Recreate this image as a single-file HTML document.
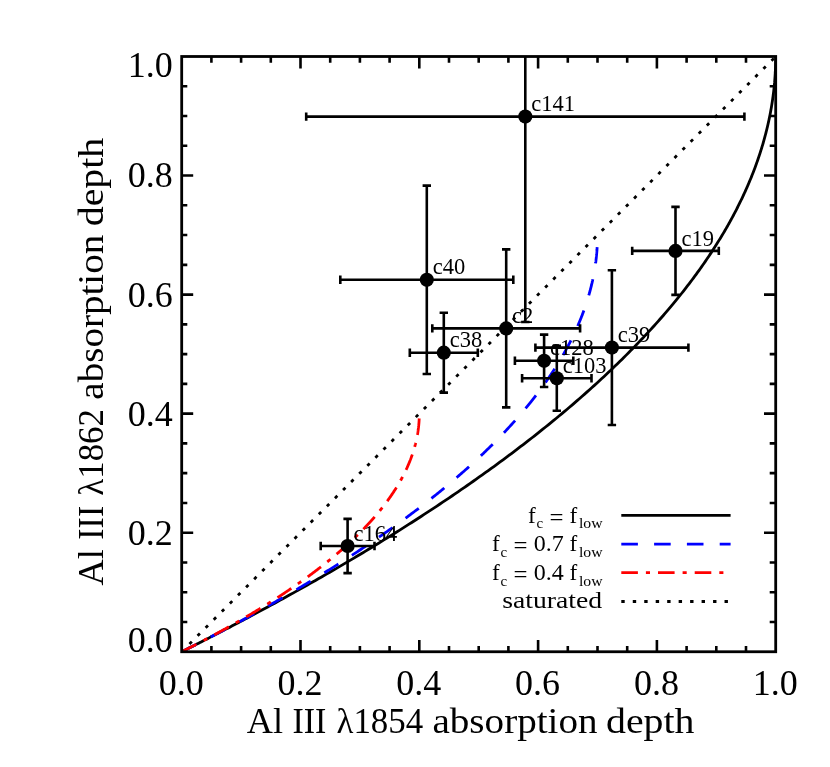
<!DOCTYPE html>
<html lang="en"><head><meta charset="utf-8"><title>Al III absorption depth</title>
<style>
html,body{margin:0;padding:0;background:#fff;}
body{width:830px;height:767px;overflow:hidden;font-family:"Liberation Serif", serif;}
svg{display:block;will-change:transform;}
text{font-family:"Liberation Serif", serif;fill:#000;}
.tk{font-size:36px;}
.ti{font-size:36px;}
.lb{font-size:23.2px;}
.lg{font-size:23.2px;}
.sb{font-size:14px;}
</style></head><body>
<svg width="830" height="767" viewBox="0 0 830 767">
<rect x="0" y="0" width="830" height="767" fill="#ffffff"/>
<defs><clipPath id="cp"><rect x="181.70" y="56.50" width="594.00" height="595.25"/></clipPath></defs>
<g clip-path="url(#cp)" fill="none" stroke-width="2.8">
<path d="M181.70 651.75 L181.72 651.74 L181.79 651.71 L181.90 651.65 L182.05 651.57 L182.25 651.47 L182.49 651.35 L182.78 651.21 L183.11 651.04 L183.48 650.86 L183.90 650.65 L184.36 650.42 L184.86 650.16 L185.41 649.89 L186.00 649.59 L186.63 649.27 L187.31 648.93 L188.02 648.57 L188.79 648.19 L189.59 647.78 L190.44 647.36 L191.32 646.91 L192.25 646.44 L193.22 645.95 L194.24 645.43 L195.29 644.90 L196.39 644.34 L197.52 643.77 L198.70 643.17 L199.92 642.55 L201.17 641.91 L202.47 641.25 L203.81 640.57 L205.18 639.87 L206.60 639.14 L208.05 638.40 L209.54 637.63 L211.07 636.85 L212.63 636.04 L214.24 635.22 L215.88 634.37 L217.55 633.51 L219.27 632.62 L221.02 631.71 L222.80 630.79 L224.62 629.84 L226.47 628.88 L228.36 627.89 L230.29 626.89 L232.24 625.86 L234.23 624.82 L236.25 623.76 L238.31 622.68 L240.39 621.58 L242.51 620.46 L244.66 619.32 L246.84 618.17 L249.04 616.99 L251.28 615.80 L253.55 614.59 L255.85 613.36 L258.17 612.11 L260.52 610.85 L262.90 609.57 L265.31 608.27 L267.74 606.95 L270.20 605.62 L272.68 604.27 L275.19 602.90 L277.73 601.52 L280.28 600.11 L282.86 598.70 L285.47 597.26 L288.09 595.81 L290.74 594.35 L293.41 592.86 L296.10 591.37 L298.81 589.85 L301.54 588.33 L304.29 586.78 L307.06 585.22 L309.84 583.65 L312.65 582.06 L315.47 580.46 L318.31 578.84 L321.16 577.21 L324.03 575.56 L326.91 573.90 L329.81 572.23 L332.73 570.54 L335.65 568.84 L338.59 567.12 L341.55 565.39 L344.51 563.65 L347.49 561.90 L350.47 560.14 L353.47 558.36 L356.48 556.57 L359.50 554.76 L362.52 552.95 L365.56 551.12 L368.60 549.29 L371.65 547.44 L374.70 545.58 L377.77 543.71 L380.83 541.82 L383.91 539.93 L386.99 538.03 L390.07 536.11 L393.16 534.19 L396.25 532.26 L399.34 530.31 L402.44 528.36 L405.53 526.40 L408.63 524.43 L411.73 522.45 L414.83 520.46 L417.93 518.46 L421.03 516.46 L424.13 514.44 L427.23 512.42 L430.33 510.39 L433.42 508.35 L436.51 506.31 L439.60 504.25 L442.69 502.19 L445.77 500.13 L448.85 498.05 L451.92 495.97 L454.99 493.89 L458.05 491.79 L461.10 489.69 L464.15 487.59 L467.20 485.48 L470.23 483.36 L473.26 481.24 L476.28 479.12 L479.29 476.98 L482.30 474.85 L485.29 472.71 L488.28 470.56 L491.25 468.41 L494.22 466.26 L497.17 464.10 L500.12 461.94 L503.05 459.78 L505.98 457.61 L508.89 455.44 L511.79 453.27 L514.67 451.09 L517.55 448.91 L520.41 446.73 L523.26 444.55 L526.10 442.36 L528.92 440.18 L531.73 437.99 L534.52 435.80 L537.30 433.60 L540.06 431.41 L542.81 429.22 L545.55 427.02 L548.27 424.82 L550.97 422.63 L553.66 420.43 L556.34 418.23 L558.99 416.04 L561.63 413.84 L564.26 411.64 L566.86 409.45 L569.46 407.25 L572.03 405.06 L574.58 402.86 L577.12 400.67 L579.64 398.48 L582.15 396.29 L584.63 394.10 L587.10 391.91 L589.55 389.72 L591.98 387.54 L594.40 385.36 L596.79 383.18 L599.17 381.00 L601.52 378.83 L603.86 376.66 L606.18 374.49 L608.48 372.32 L610.77 370.16 L613.03 368.00 L615.27 365.85 L617.50 363.69 L619.70 361.55 L621.89 359.40 L624.05 357.26 L626.20 355.12 L628.33 352.99 L630.44 350.86 L632.53 348.74 L634.59 346.62 L636.64 344.51 L638.67 342.40 L640.68 340.29 L642.67 338.19 L644.64 336.10 L646.60 334.01 L648.53 331.92 L650.44 329.85 L652.33 327.77 L654.20 325.71 L656.06 323.65 L657.89 321.59 L659.71 319.54 L661.50 317.50 L663.27 315.46 L665.03 313.43 L666.77 311.41 L668.48 309.39 L670.18 307.38 L671.86 305.38 L673.52 303.38 L675.16 301.39 L676.78 299.41 L678.38 297.43 L679.97 295.46 L681.53 293.50 L683.08 291.55 L684.61 289.60 L686.12 287.66 L687.61 285.73 L689.08 283.81 L690.53 281.89 L691.97 279.99 L693.39 278.09 L694.79 276.20 L696.17 274.31 L697.53 272.44 L698.88 270.57 L700.21 268.71 L701.52 266.86 L702.81 265.02 L704.09 263.18 L705.35 261.36 L706.59 259.54 L707.81 257.73 L709.02 255.93 L710.21 254.14 L711.39 252.36 L712.55 250.59 L713.69 248.82 L714.82 247.07 L715.93 245.32 L717.02 243.59 L718.10 241.86 L719.16 240.14 L720.21 238.43 L721.24 236.73 L722.26 235.04 L723.26 233.36 L724.25 231.69 L725.22 230.02 L726.18 228.37 L727.12 226.73 L728.05 225.09 L728.96 223.47 L729.86 221.85 L730.75 220.25 L731.62 218.65 L732.48 217.06 L733.33 215.49 L734.16 213.92 L734.97 212.36 L735.78 210.81 L736.57 209.27 L737.35 207.75 L738.12 206.23 L738.87 204.72 L739.61 203.22 L740.34 201.73 L741.06 200.25 L741.76 198.78 L742.46 197.32 L743.14 195.87 L743.81 194.43 L744.46 193.00 L745.11 191.58 L745.75 190.17 L746.37 188.77 L746.99 187.37 L747.59 185.99 L748.18 184.62 L748.76 183.26 L749.33 181.91 L749.90 180.57 L750.45 179.23 L750.99 177.91 L751.52 176.60 L752.04 175.30 L752.55 174.00 L753.06 172.72 L753.55 171.45 L754.03 170.18 L754.51 168.93 L754.98 167.68 L755.43 166.45 L755.88 165.22 L756.32 164.01 L756.76 162.80 L757.18 161.61 L757.60 160.42 L758.00 159.24 L758.40 158.08 L758.79 156.92 L759.18 155.77 L759.56 154.63 L759.93 153.50 L760.29 152.38 L760.64 151.27 L760.99 150.17 L761.33 149.08 L761.67 148.00 L761.99 146.92 L762.31 145.86 L762.63 144.81 L762.93 143.76 L763.24 142.73 L763.53 141.70 L763.82 140.68 L764.10 139.67 L764.38 138.67 L764.65 137.68 L764.92 136.70 L765.18 135.73 L765.43 134.76 L765.68 133.81 L765.92 132.86 L766.16 131.92 L766.40 131.00 L766.62 130.08 L766.85 129.16 L767.07 128.26 L767.28 127.37 L767.49 126.48 L767.69 125.61 L767.89 124.74 L768.09 123.88 L768.28 123.02 L768.47 122.18 L768.65 121.35 L768.83 120.52 L769.00 119.70 L769.17 118.89 L769.34 118.09 L769.50 117.29 L769.66 116.51 L769.82 115.73 L769.97 114.96 L770.12 114.20 L770.26 113.44 L770.41 112.69 L770.54 111.96 L770.68 111.22 L770.81 110.50 L770.94 109.78 L771.07 109.08 L771.19 108.37 L771.31 107.68 L771.43 106.99 L771.54 106.31 L771.65 105.64 L771.76 104.98 L771.87 104.32 L771.97 103.67 L772.07 103.03 L772.17 102.39 L772.27 101.76 L772.36 101.14 L772.45 100.53 L772.54 99.92 L772.63 99.32 L772.71 98.72 L772.79 98.14 L772.87 97.55 L772.95 96.98 L773.03 96.41 L773.10 95.85 L773.18 95.30 L773.25 94.75 L773.32 94.21 L773.38 93.67 L773.45 93.14 L773.51 92.62 L773.58 92.10 L773.64 91.59 L773.70 91.08 L773.75 90.58 L773.81 90.09 L773.86 89.60 L773.92 89.12 L773.97 88.65 L774.02 88.18 L774.07 87.71 L774.11 87.25 L774.16 86.80 L774.21 86.35 L774.25 85.91 L774.29 85.48 L774.33 85.04 L774.37 84.62 L774.41 84.20 L774.45 83.78 L774.49 83.37 L774.53 82.97 L774.56 82.57 L774.59 82.18 L774.63 81.79 L774.66 81.40 L774.69 81.02 L774.72 80.65 L774.75 80.28 L774.78 79.91 L774.81 79.55 L774.84 79.20 L774.86 78.85 L774.89 78.50 L774.91 78.16 L774.94 77.82 L774.96 77.49 L774.98 77.16 L775.01 76.84 L775.03 76.52 L775.05 76.20 L775.07 75.89 L775.09 75.59 L775.11 75.28 L775.13 74.99 L775.15 74.69 L775.16 74.40 L775.18 74.11 L775.20 73.83 L775.21 73.55 L775.23 73.28 L775.24 73.01 L775.26 72.74 L775.27 72.48 L775.29 72.22 L775.30 71.96 L775.31 71.71 L775.32 71.46 L775.34 71.21 L775.35 70.97 L775.36 70.73 L775.37 70.50 L775.38 70.27 L775.39 70.04 L775.40 69.81 L775.41 69.59 L775.42 69.37 L775.43 69.16 L775.44 68.95 L775.45 68.74 L775.46 68.53 L775.47 68.33 L775.47 68.13 L775.48 67.93 L775.49 67.74 L775.50 67.55 L775.50 67.36 L775.51 67.17 L775.52 66.99 L775.52 66.81 L775.53 66.63 L775.53 66.46 L775.54 66.28 L775.55 66.12 L775.55 65.95 L775.56 65.78 L775.56 65.62 L775.57 65.46 L775.57 65.31 L775.57 65.15 L775.58 65.00 L775.58 64.85 L775.59 64.70 L775.59 64.56 L775.59 64.42 L775.60 64.27 L775.60 64.14 L775.61 64.00 L775.61 63.87 L775.61 63.73 L775.62 63.61 L775.62 63.48 L775.62 63.35 L775.62 63.23 L775.63 63.11 L775.63 62.99 L775.63 62.87 L775.63 62.75 L775.64 62.64 L775.64 62.53 L775.64 62.42 L775.64 62.31 L775.65 62.20 L775.65 62.10 L775.65 61.99 L775.65 61.89 L775.65 61.79 L775.65 61.69 L775.66 61.60 L775.66 61.50 L775.66 61.41 L775.66 61.32 L775.66 61.23 L775.66 61.14 L775.67 61.05 L775.67 60.97 L775.67 60.88 L775.67 60.80 L775.67 60.72 L775.67 60.64 L775.67 60.56 L775.67 60.48 L775.67 60.41 L775.68 60.33 L775.68 60.26 L775.68 60.18 L775.68 60.11 L775.68 60.04 L775.68 59.98 L775.68 59.91 L775.68 59.84 L775.68 59.78 L775.68 59.71 L775.68 59.65 L775.68 59.59 L775.68 59.53 L775.69 59.47 L775.69 59.41 L775.69 59.35 L775.69 59.30 L775.69 59.24 L775.69 59.19 L775.69 59.14 L775.69 59.08 L775.69 59.03 L775.69 58.98 L775.69 58.93 L775.69 58.88 L775.69 58.84 L775.69 58.79 L775.69 58.74 L775.69 58.70 L775.69 58.65 L775.69 58.61 L775.69 58.57 L775.69 58.52 L775.69 58.48 L775.69 58.44 L775.69 58.40 L775.69 58.36 L775.69 58.33 L775.69 58.29 L775.69 58.25 L775.70 58.22 L775.70 58.18 L775.70 58.15 L775.70 58.11 L775.70 58.08 L775.70 58.05 L775.70 58.01 L775.70 57.98 L775.70 57.95 L775.70 57.92 L775.70 57.89 L775.70 57.86 L775.70 57.83 L775.70 57.81 L775.70 57.78 L775.70 57.75 L775.70 57.72 L775.70 57.70 L775.70 57.67 L775.70 57.65 L775.70 57.62 L775.70 57.60 L775.70 57.58 L775.70 57.55 L775.70 57.53 L775.70 57.51 L775.70 57.49 L775.70 57.47 L775.70 57.44 L775.70 57.42 L775.70 57.40 L775.70 57.38 L775.70 57.37 L775.70 57.35 L775.70 57.33 L775.70 57.31 L775.70 57.29 L775.70 57.27 L775.70 57.26 L775.70 57.24 L775.70 57.22 L775.70 57.21 L775.70 57.19 L775.70 57.18 L775.70 57.16 L775.70 57.15 L775.70 57.13 L775.70 57.12 L775.70 57.11 L775.70 57.09 L775.70 57.08 L775.70 57.07 L775.70 57.05 L775.70 57.04 L775.70 57.03 L775.70 57.02 L775.70 57.00 L775.70 56.99 L775.70 56.98 L775.70 56.97 L775.70 56.96 L775.70 56.95 L775.70 56.94 L775.70 56.93 L775.70 56.92 L775.70 56.91 L775.70 56.90 L775.70 56.89 L775.70 56.88 L775.70 56.87 L775.70 56.87 L775.70 56.86 L775.70 56.85 L775.70 56.84 L775.70 56.83 L775.70 56.82 L775.70 56.82 L775.70 56.81 L775.70 56.80 L775.70 56.80 L775.70 56.79 L775.70 56.78 L775.70 56.77 L775.70 56.77 L775.70 56.76 L775.70 56.76 L775.70 56.75 L775.70 56.74 L775.70 56.74 L775.70 56.73 L775.70 56.73 L775.70 56.72 L775.70 56.72 L775.70 56.71 L775.70 56.71 L775.70 56.70 L775.70 56.70 L775.70 56.69 L775.70 56.69 L775.70 56.68 L775.70 56.68 L775.70 56.67 L775.70 56.67 L775.70 56.67 L775.70 56.66 L775.70 56.66 L775.70 56.65 L775.70 56.65 L775.70 56.65 L775.70 56.64 L775.70 56.64 L775.70 56.64 L775.70 56.63 L775.70 56.63 L775.70 56.63 L775.70 56.62 L775.70 56.62 L775.70 56.62 L775.70 56.61 L775.70 56.61 L775.70 56.61 L775.70 56.61 L775.70 56.60 L775.70 56.60 L775.70 56.60 L775.70 56.60 L775.70 56.59 L775.70 56.59 L775.70 56.59 L775.70 56.59 L775.70 56.58 L775.70 56.58 L775.70 56.58 L775.70 56.58 L775.70 56.58 L775.70 56.57 L775.70 56.57 L775.70 56.57 L775.70 56.57 L775.70 56.57 L775.70 56.56 L775.70 56.56 L775.70 56.56 L775.70 56.56 L775.70 56.56 L775.70 56.56 L775.70 56.56 L775.70 56.55 L775.70 56.55 L775.70 56.55 L775.70 56.55 L775.70 56.55 L775.70 56.55 L775.70 56.55 L775.70 56.54 L775.70 56.54 L775.70 56.54 L775.70 56.54 L775.70 56.54 L775.70 56.54 L775.70 56.54 L775.70 56.54 L775.70 56.54 L775.70 56.54 L775.70 56.53 L775.70 56.53 L775.70 56.53 L775.70 56.53 L775.70 56.53 L775.70 56.53 L775.70 56.53 L775.70 56.53 L775.70 56.53 L775.70 56.53 L775.70 56.53 L775.70 56.53 L775.70 56.52 L775.70 56.52 L775.70 56.52 L775.70 56.52 L775.70 56.52 L775.70 56.52 L775.70 56.52 L775.70 56.52 L775.70 56.52 L775.70 56.52 L775.70 56.52 L775.70 56.52 L775.70 56.52 L775.70 56.52 L775.70 56.52 L775.70 56.52 L775.70 56.52 L775.70 56.52 L775.70 56.52 L775.70 56.51 L775.70 56.51 L775.70 56.51 L775.70 56.51 L775.70 56.51 L775.70 56.51 L775.70 56.51 L775.70 56.51 L775.70 56.51 L775.70 56.51 L775.70 56.51 L775.70 56.51 L775.70 56.51 L775.70 56.51 L775.70 56.51 L775.70 56.51 L775.70 56.51 L775.70 56.51 L775.70 56.51 L775.70 56.51 L775.70 56.51 L775.70 56.51 L775.70 56.51 L775.70 56.51 L775.70 56.51 L775.70 56.51 L775.70 56.51 L775.70 56.51 L775.70 56.51 L775.70 56.51 L775.70 56.51 L775.70 56.51 L775.70 56.51 L775.70 56.51 L775.70 56.51 L775.70 56.51 L775.70 56.51 L775.70 56.51 L775.70 56.50 L775.70 56.50 L775.70 56.50 L775.70 56.50 L775.70 56.50 L775.70 56.50 L775.70 56.50 L775.70 56.50 L775.70 56.50 L775.70 56.50 L775.70 56.50 L775.70 56.50 L775.70 56.50 L775.70 56.50 L775.70 56.50 L775.70 56.50 L775.70 56.50 L775.70 56.50 L775.70 56.50 L775.70 56.50 L775.70 56.50 L775.70 56.50 L775.70 56.50 L775.70 56.50 L775.70 56.50 L775.70 56.50 L775.70 56.50 L775.70 56.50 L775.70 56.50 L775.70 56.50 L775.70 56.50 L775.70 56.50 L775.70 56.50 L775.70 56.50 L775.70 56.50 L775.70 56.50 L775.70 56.50 L775.70 56.50 L775.70 56.50 L775.70 56.50 L775.70 56.50 L775.70 56.50 L775.70 56.50 L775.70 56.50 L775.70 56.50 L775.70 56.50 L775.70 56.50 L775.70 56.50 L775.70 56.50 L775.70 56.50 L775.70 56.50 L775.70 56.50 L775.70 56.50 L775.70 56.50 L775.70 56.50 L775.70 56.50 L775.70 56.50 L775.70 56.50 L775.70 56.50 L775.70 56.50 L775.70 56.50 L775.70 56.50 L775.70 56.50 L775.70 56.50 L775.70 56.50 L775.70 56.50 L775.70 56.50 L775.70 56.50 L775.70 56.50 L775.70 56.50 L775.70 56.50 L775.70 56.50 L775.70 56.50 L775.70 56.50 L775.70 56.50 L775.70 56.50 L775.70 56.50 L775.70 56.50 L775.70 56.50 L775.70 56.50 L775.70 56.50 L775.70 56.50 L775.70 56.50 L775.70 56.50 L775.70 56.50 L775.70 56.50 L775.70 56.50 L775.70 56.50 L775.70 56.50 L775.70 56.50 L775.70 56.50 L775.70 56.50 L775.70 56.50 L775.70 56.50 L775.70 56.50 L775.70 56.50 L775.70 56.50 L775.70 56.50 L775.70 56.50 L775.70 56.50 L775.70 56.50 L775.70 56.50 L775.70 56.50 L775.70 56.50 L775.70 56.50 L775.70 56.50" stroke="#000"/>
<path d="M181.70 651.75 L775.70 56.50" stroke="#000" stroke-dasharray="3.3 8.144" stroke-dashoffset="0.43"/>
<path d="M181.70 651.75 L181.71 651.75 L181.73 651.73 L181.77 651.71 L181.83 651.68 L181.90 651.65 L182.00 651.60 L182.10 651.55 L182.22 651.49 L182.36 651.42 L182.52 651.34 L182.69 651.25 L182.88 651.16 L183.08 651.06 L183.30 650.95 L183.54 650.83 L183.79 650.70 L184.06 650.56 L184.35 650.42 L184.65 650.27 L184.97 650.11 L185.30 649.94 L185.65 649.77 L186.02 649.58 L186.40 649.39 L186.79 649.19 L187.21 648.98 L187.64 648.77 L188.08 648.54 L188.54 648.31 L189.02 648.07 L189.51 647.82 L190.01 647.56 L190.54 647.30 L191.07 647.03 L191.63 646.75 L192.19 646.46 L192.78 646.16 L193.37 645.86 L193.99 645.55 L194.62 645.23 L195.26 644.90 L195.92 644.56 L196.59 644.22 L197.28 643.87 L197.98 643.51 L198.70 643.15 L199.43 642.77 L200.17 642.39 L200.93 642.00 L201.70 641.60 L202.49 641.20 L203.29 640.79 L204.11 640.37 L204.94 639.94 L205.78 639.50 L206.64 639.06 L207.51 638.61 L208.39 638.15 L209.29 637.69 L210.20 637.22 L211.12 636.74 L212.06 636.25 L213.01 635.76 L213.97 635.26 L214.94 634.75 L215.93 634.23 L216.93 633.71 L217.94 633.18 L218.97 632.64 L220.00 632.10 L221.05 631.54 L222.11 630.98 L223.18 630.42 L224.27 629.85 L225.36 629.27 L226.47 628.68 L227.59 628.09 L228.71 627.49 L229.85 626.88 L231.01 626.27 L232.17 625.65 L233.34 625.02 L234.52 624.38 L235.72 623.74 L236.92 623.10 L238.13 622.44 L239.36 621.78 L240.59 621.12 L241.84 620.44 L243.09 619.76 L244.35 619.08 L245.63 618.38 L246.91 617.69 L248.20 616.98 L249.50 616.27 L250.81 615.55 L252.12 614.83 L253.45 614.10 L254.78 613.36 L256.12 612.62 L257.48 611.87 L258.83 611.12 L260.20 610.36 L261.57 609.60 L262.96 608.83 L264.35 608.05 L265.74 607.27 L267.15 606.48 L268.56 605.68 L269.97 604.88 L271.40 604.08 L272.83 603.27 L274.27 602.45 L275.71 601.63 L277.16 600.80 L278.62 599.97 L280.08 599.13 L281.55 598.29 L283.02 597.44 L284.50 596.59 L285.98 595.73 L287.47 594.87 L288.97 594.00 L290.47 593.13 L291.97 592.25 L293.48 591.37 L294.99 590.48 L296.51 589.59 L298.03 588.69 L299.56 587.79 L301.09 586.88 L302.62 585.97 L304.16 585.05 L305.70 584.13 L307.24 583.21 L308.79 582.28 L310.34 581.35 L311.89 580.41 L313.45 579.47 L315.01 578.52 L316.57 577.57 L318.13 576.62 L319.70 575.66 L321.27 574.69 L322.84 573.73 L324.41 572.76 L325.98 571.78 L327.56 570.81 L329.13 569.82 L330.71 568.84 L332.29 567.85 L333.87 566.86 L335.45 565.86 L337.03 564.86 L338.62 563.86 L340.20 562.85 L341.78 561.84 L343.37 560.83 L344.95 559.81 L346.53 558.79 L348.12 557.77 L349.70 556.74 L351.29 555.71 L352.87 554.68 L354.45 553.64 L356.03 552.61 L357.61 551.56 L359.19 550.52 L360.77 549.47 L362.35 548.42 L363.92 547.37 L365.50 546.32 L367.07 545.26 L368.64 544.20 L370.21 543.14 L371.78 542.08 L373.35 541.01 L374.91 539.94 L376.47 538.87 L378.03 537.79 L379.59 536.72 L381.14 535.64 L382.70 534.56 L384.24 533.48 L385.79 532.40 L387.33 531.31 L388.88 530.22 L390.41 529.13 L391.95 528.04 L393.48 526.95 L395.00 525.85 L396.53 524.76 L398.05 523.66 L399.56 522.56 L401.08 521.46 L402.59 520.36 L404.09 519.25 L405.59 518.15 L407.09 517.04 L408.58 515.94 L410.07 514.83 L411.55 513.72 L413.03 512.61 L414.51 511.50 L415.98 510.38 L417.44 509.27 L418.90 508.16 L420.36 507.04 L421.81 505.92 L423.26 504.81 L424.70 503.69 L426.13 502.57 L427.56 501.45 L428.99 500.33 L430.41 499.21 L431.82 498.09 L433.23 496.97 L434.63 495.85 L436.03 494.73 L437.42 493.61 L438.81 492.49 L440.19 491.37 L441.57 490.24 L442.93 489.12 L444.30 488.00 L445.65 486.88 L447.00 485.75 L448.35 484.63 L449.69 483.51 L451.02 482.39 L452.34 481.27 L453.66 480.14 L454.98 479.02 L456.28 477.90 L457.58 476.78 L458.88 475.66 L460.16 474.54 L461.45 473.42 L462.72 472.30 L463.99 471.19 L465.25 470.07 L466.50 468.95 L467.75 467.84 L468.99 466.72 L470.22 465.61 L471.45 464.49 L472.67 463.38 L473.88 462.27 L475.09 461.16 L476.29 460.05 L477.48 458.94 L478.66 457.83 L479.84 456.73 L481.01 455.62 L482.17 454.52 L483.33 453.41 L484.48 452.31 L485.62 451.21 L486.76 450.11 L487.88 449.01 L489.00 447.92 L490.12 446.82 L491.22 445.73 L492.32 444.64 L493.41 443.55 L494.50 442.46 L495.58 441.37 L496.65 440.29 L497.71 439.20 L498.76 438.12 L499.81 437.04 L500.85 435.96 L501.89 434.89 L502.91 433.81 L503.93 432.74 L504.94 431.67 L505.95 430.60 L506.94 429.53 L507.93 428.46 L508.91 427.40 L509.89 426.34 L510.86 425.28 L511.82 424.22 L512.77 423.17 L513.71 422.12 L514.65 421.07 L515.58 420.02 L516.51 418.97 L517.42 417.93 L518.33 416.89 L519.23 415.85 L520.13 414.81 L521.02 413.78 L521.90 412.75 L522.77 411.72 L523.64 410.69 L524.50 409.67 L525.35 408.65 L526.19 407.63 L527.03 406.61 L527.86 405.60 L528.68 404.59 L529.50 403.58 L530.31 402.57 L531.11 401.57 L531.91 400.57 L532.69 399.57 L533.47 398.58 L534.25 397.59 L535.02 396.60 L535.78 395.61 L536.53 394.63 L537.28 393.65 L538.02 392.67 L538.75 391.70 L539.48 390.73 L540.20 389.76 L540.91 388.79 L541.62 387.83 L542.32 386.87 L543.01 385.91 L543.70 384.96 L544.38 384.01 L545.05 383.06 L545.72 382.12 L546.38 381.18 L547.03 380.24 L547.68 379.30 L548.32 378.37 L548.96 377.45 L549.59 376.52 L550.21 375.60 L550.82 374.68 L551.43 373.76 L552.04 372.85 L552.64 371.94 L553.23 371.04 L553.81 370.14 L554.39 369.24 L554.97 368.34 L555.53 367.45 L556.09 366.56 L556.65 365.68 L557.20 364.80 L557.74 363.92 L558.28 363.04 L558.81 362.17 L559.34 361.30 L559.86 360.44 L560.38 359.58 L560.89 358.72 L561.39 357.86 L561.89 357.01 L562.38 356.17 L562.87 355.32 L563.35 354.48 L563.83 353.65 L564.30 352.81 L564.77 351.98 L565.23 351.16 L565.68 350.34 L566.13 349.52 L566.58 348.70 L567.02 347.89 L567.45 347.08 L567.88 346.28 L568.31 345.48 L568.73 344.68 L569.14 343.89 L569.56 343.10 L569.96 342.31 L570.36 341.53 L570.76 340.75 L571.15 339.97 L571.53 339.20 L571.92 338.43 L572.29 337.67 L572.67 336.91 L573.03 336.15 L573.40 335.39 L573.76 334.64 L574.11 333.90 L574.46 333.16 L574.81 332.42 L575.15 331.68 L575.49 330.95 L575.82 330.22 L576.15 329.50 L576.47 328.78 L576.79 328.06 L577.11 327.35 L577.42 326.64 L577.73 325.93 L578.04 325.23 L578.34 324.53 L578.63 323.83 L578.93 323.14 L579.21 322.46 L579.50 321.77 L579.78 321.09 L580.06 320.41 L580.33 319.74 L580.60 319.07 L580.87 318.41 L581.13 317.74 L581.39 317.08 L581.65 316.43 L581.90 315.78 L582.15 315.13 L582.40 314.49 L582.64 313.85 L582.88 313.21 L583.11 312.58 L583.35 311.95 L583.58 311.32 L583.80 310.70 L584.03 310.08 L584.25 309.47 L584.46 308.85 L584.68 308.25 L584.89 307.64 L585.10 307.04 L585.30 306.44 L585.50 305.85 L585.70 305.26 L585.90 304.67 L586.09 304.09 L586.28 303.51 L586.47 302.94 L586.66 302.36 L586.84 301.79 L587.02 301.23 L587.20 300.67 L587.37 300.11 L587.54 299.55 L587.71 299.00 L587.88 298.45 L588.04 297.91 L588.21 297.37 L588.37 296.83 L588.52 296.30 L588.68 295.77 L588.83 295.24 L588.98 294.72 L589.13 294.19 L589.28 293.68 L589.42 293.16 L589.56 292.65 L589.70 292.15 L589.84 291.64 L589.97 291.14 L590.10 290.64 L590.24 290.15 L590.36 289.66 L590.49 289.17 L590.62 288.69 L590.74 288.21 L590.86 287.73 L590.98 287.26 L591.10 286.79 L591.21 286.32 L591.32 285.86 L591.44 285.39 L591.55 284.94 L591.65 284.48 L591.76 284.03 L591.86 283.58 L591.97 283.14 L592.07 282.69 L592.17 282.26 L592.27 281.82 L592.36 281.39 L592.46 280.96 L592.55 280.53 L592.64 280.11 L592.73 279.69 L592.82 279.27 L592.91 278.86 L593.00 278.44 L593.08 278.04 L593.16 277.63 L593.24 277.23 L593.32 276.83 L593.40 276.43 L593.48 276.04 L593.56 275.65 L593.63 275.26 L593.71 274.88 L593.78 274.50 L593.85 274.12 L593.92 273.74 L593.99 273.37 L594.06 273.00 L594.12 272.63 L594.19 272.27 L594.25 271.91 L594.31 271.55 L594.38 271.19 L594.44 270.84 L594.50 270.49 L594.56 270.14 L594.61 269.79 L594.67 269.45 L594.73 269.11 L594.78 268.77 L594.83 268.44 L594.89 268.11 L594.94 267.78 L594.99 267.45 L595.04 267.13 L595.09 266.81 L595.14 266.49 L595.18 266.17 L595.23 265.86 L595.28 265.55 L595.32 265.24 L595.36 264.94 L595.41 264.63 L595.45 264.33 L595.49 264.03 L595.53 263.74 L595.57 263.44 L595.61 263.15 L595.65 262.87 L595.69 262.58 L595.73 262.30 L595.76 262.01 L595.80 261.74 L595.83 261.46 L595.87 261.19 L595.90 260.91 L595.93 260.64 L595.97 260.38 L596.00 260.11 L596.03 259.85 L596.06 259.59 L596.09 259.33 L596.12 259.08 L596.15 258.82 L596.18 258.57 L596.21 258.32 L596.23 258.07 L596.26 257.83 L596.29 257.59 L596.31 257.35 L596.34 257.11 L596.36 256.87 L596.39 256.64 L596.41 256.41 L596.43 256.18 L596.46 255.95 L596.48 255.72 L596.50 255.50 L596.52 255.28 L596.54 255.06 L596.56 254.84 L596.58 254.62 L596.60 254.41 L596.62 254.20 L596.64 253.99 L596.66 253.78 L596.68 253.57 L596.70 253.37 L596.72 253.17 L596.73 252.97 L596.75 252.77 L596.77 252.57 L596.78 252.38 L596.80 252.19 L596.81 251.99 L596.83 251.80 L596.84 251.62 L596.86 251.43 L596.87 251.25 L596.89 251.07 L596.90 250.88 L596.91 250.71 L596.93 250.53 L596.94 250.35 L596.95 250.18 L596.97 250.01 L596.98 249.84 L596.99 249.67 L597.00 249.50 L597.01 249.34 L597.02 249.17 L597.03 249.01 L597.05 248.85 L597.06 248.69 L597.07 248.53 L597.08 248.38 L597.09 248.22 L597.10 248.07 L597.10 247.92 L597.11 247.77 L597.12 247.62 L597.13 247.48 L597.14 247.33 L597.15 247.19 L597.16 247.04" stroke="#0000ff" stroke-dasharray="16.55 16.07"/>
<path d="M181.70 651.75 L181.71 651.75 L181.72 651.74 L181.75 651.73 L181.78 651.71 L181.83 651.69 L181.89 651.66 L181.95 651.62 L182.03 651.58 L182.12 651.54 L182.21 651.49 L182.32 651.44 L182.44 651.38 L182.57 651.31 L182.71 651.24 L182.86 651.17 L183.01 651.09 L183.18 651.01 L183.36 650.92 L183.55 650.82 L183.75 650.72 L183.96 650.62 L184.18 650.50 L184.41 650.39 L184.65 650.27 L184.90 650.14 L185.15 650.01 L185.42 649.88 L185.70 649.74 L185.99 649.59 L186.29 649.44 L186.60 649.28 L186.91 649.12 L187.24 648.96 L187.58 648.79 L187.92 648.61 L188.28 648.43 L188.64 648.24 L189.02 648.05 L189.40 647.86 L189.80 647.66 L190.20 647.45 L190.61 647.24 L191.03 647.03 L191.46 646.81 L191.90 646.58 L192.35 646.35 L192.80 646.12 L193.27 645.88 L193.74 645.64 L194.23 645.39 L194.72 645.13 L195.22 644.88 L195.73 644.61 L196.25 644.35 L196.77 644.07 L197.31 643.80 L197.85 643.52 L198.40 643.23 L198.96 642.94 L199.53 642.64 L200.10 642.34 L200.69 642.04 L201.28 641.73 L201.88 641.42 L202.48 641.10 L203.10 640.78 L203.72 640.45 L204.35 640.12 L204.99 639.78 L205.63 639.44 L206.28 639.10 L206.94 638.75 L207.61 638.39 L208.28 638.04 L208.96 637.67 L209.65 637.31 L210.34 636.94 L211.04 636.56 L211.75 636.18 L212.46 635.80 L213.19 635.41 L213.91 635.02 L214.64 634.63 L215.38 634.23 L216.13 633.82 L216.88 633.42 L217.64 633.01 L218.40 632.59 L219.17 632.17 L219.94 631.75 L220.72 631.32 L221.51 630.89 L222.30 630.45 L223.10 630.02 L223.90 629.57 L224.71 629.13 L225.52 628.68 L226.34 628.22 L227.16 627.76 L227.98 627.30 L228.82 626.84 L229.65 626.37 L230.49 625.90 L231.34 625.42 L232.19 624.94 L233.04 624.46 L233.90 623.98 L234.76 623.49 L235.63 622.99 L236.49 622.50 L237.37 622.00 L238.24 621.50 L239.13 620.99 L240.01 620.48 L240.90 619.97 L241.79 619.45 L242.68 618.93 L243.58 618.41 L244.48 617.89 L245.38 617.36 L246.29 616.83 L247.20 616.29 L248.11 615.76 L249.02 615.22 L249.94 614.67 L250.86 614.13 L251.78 613.58 L252.70 613.03 L253.62 612.47 L254.55 611.92 L255.48 611.36 L256.41 610.79 L257.34 610.23 L258.28 609.66 L259.21 609.09 L260.15 608.52 L261.09 607.94 L262.03 607.36 L262.97 606.78 L263.91 606.20 L264.86 605.62 L265.80 605.03 L266.74 604.44 L267.69 603.85 L268.64 603.25 L269.58 602.65 L270.53 602.05 L271.48 601.45 L272.43 600.85 L273.38 600.25 L274.32 599.64 L275.27 599.03 L276.22 598.42 L277.17 597.80 L278.12 597.19 L279.07 596.57 L280.01 595.95 L280.96 595.33 L281.91 594.71 L282.85 594.08 L283.80 593.46 L284.75 592.83 L285.69 592.20 L286.63 591.57 L287.58 590.93 L288.52 590.30 L289.46 589.66 L290.40 589.03 L291.33 588.39 L292.27 587.75 L293.21 587.10 L294.14 586.46 L295.07 585.82 L296.00 585.17 L296.93 584.52 L297.86 583.87 L298.78 583.22 L299.71 582.57 L300.63 581.92 L301.55 581.27 L302.46 580.61 L303.38 579.96 L304.29 579.30 L305.20 578.65 L306.11 577.99 L307.02 577.33 L307.92 576.67 L308.82 576.01 L309.72 575.35 L310.62 574.68 L311.51 574.02 L312.40 573.36 L313.29 572.69 L314.18 572.03 L315.06 571.36 L315.94 570.69 L316.81 570.03 L317.69 569.36 L318.56 568.69 L319.42 568.02 L320.29 567.35 L321.15 566.68 L322.01 566.01 L322.86 565.34 L323.71 564.67 L324.56 564.00 L325.40 563.33 L326.24 562.66 L327.08 561.99 L327.91 561.31 L328.74 560.64 L329.57 559.97 L330.39 559.30 L331.21 558.63 L332.03 557.95 L332.84 557.28 L333.65 556.61 L334.45 555.94 L335.25 555.27 L336.04 554.59 L336.84 553.92 L337.62 553.25 L338.41 552.58 L339.19 551.91 L339.96 551.24 L340.73 550.57 L341.50 549.90 L342.26 549.23 L343.02 548.56 L343.78 547.89 L344.53 547.22 L345.28 546.55 L346.02 545.88 L346.75 545.21 L347.49 544.55 L348.22 543.88 L348.94 543.22 L349.66 542.55 L350.38 541.89 L351.09 541.22 L351.80 540.56 L352.50 539.90 L353.20 539.24 L353.89 538.58 L354.58 537.92 L355.27 537.26 L355.95 536.60 L356.62 535.94 L357.29 535.28 L357.96 534.63 L358.62 533.97 L359.28 533.32 L359.93 532.67 L360.58 532.01 L361.23 531.36 L361.87 530.71 L362.50 530.06 L363.13 529.42 L363.76 528.77 L364.38 528.13 L364.99 527.48 L365.61 526.84 L366.21 526.20 L366.82 525.56 L367.41 524.92 L368.01 524.28 L368.60 523.64 L369.18 523.00 L369.76 522.37 L370.34 521.74 L370.91 521.11 L371.47 520.48 L372.03 519.85 L372.59 519.22 L373.14 518.59 L373.69 517.97 L374.23 517.35 L374.77 516.72 L375.31 516.10 L375.84 515.49 L376.36 514.87 L376.88 514.25 L377.40 513.64 L377.91 513.03 L378.42 512.42 L378.92 511.81 L379.42 511.20 L379.91 510.59 L380.40 509.99 L380.89 509.39 L381.37 508.79 L381.84 508.19 L382.31 507.59 L382.78 506.99 L383.24 506.40 L383.70 505.81 L384.16 505.22 L384.61 504.63 L385.05 504.04 L385.50 503.46 L385.93 502.88 L386.37 502.30 L386.80 501.72 L387.22 501.14 L387.64 500.56 L388.06 499.99 L388.47 499.42 L388.88 498.85 L389.28 498.28 L389.68 497.72 L390.08 497.15 L390.47 496.59 L390.86 496.03 L391.24 495.47 L391.62 494.92 L392.00 494.36 L392.37 493.81 L392.74 493.26 L393.10 492.72 L393.46 492.17 L393.82 491.63 L394.17 491.09 L394.52 490.55 L394.86 490.01 L395.20 489.47 L395.54 488.94 L395.88 488.41 L396.21 487.88 L396.53 487.36 L396.85 486.83 L397.17 486.31 L397.49 485.79 L397.80 485.27 L398.11 484.76 L398.41 484.24 L398.72 483.73 L399.01 483.22 L399.31 482.71 L399.60 482.21 L399.89 481.71 L400.17 481.21 L400.45 480.71 L400.73 480.21 L401.00 479.72 L401.28 479.23 L401.54 478.74 L401.81 478.25 L402.07 477.77 L402.33 477.29 L402.58 476.81 L402.84 476.33 L403.08 475.85 L403.33 475.38 L403.57 474.91 L403.81 474.44 L404.05 473.97 L404.28 473.51 L404.51 473.05 L404.74 472.59 L404.97 472.13 L405.19 471.68 L405.41 471.22 L405.62 470.77 L405.84 470.32 L406.05 469.88 L406.26 469.43 L406.46 468.99 L406.67 468.55 L406.87 468.12 L407.06 467.68 L407.26 467.25 L407.45 466.82 L407.64 466.39 L407.83 465.97 L408.01 465.55 L408.19 465.13 L408.37 464.71 L408.55 464.29 L408.73 463.88 L408.90 463.47 L409.07 463.06 L409.24 462.65 L409.40 462.25 L409.57 461.84 L409.73 461.44 L409.88 461.05 L410.04 460.65 L410.20 460.26 L410.35 459.87 L410.50 459.48 L410.64 459.09 L410.79 458.71 L410.93 458.33 L411.08 457.95 L411.21 457.57 L411.35 457.20 L411.49 456.82 L411.62 456.45 L411.75 456.09 L411.88 455.72 L412.01 455.36 L412.14 455.00 L412.26 454.64 L412.38 454.28 L412.50 453.93 L412.62 453.57 L412.74 453.22 L412.85 452.88 L412.96 452.53 L413.08 452.19 L413.19 451.85 L413.29 451.51 L413.40 451.17 L413.50 450.83 L413.61 450.50 L413.71 450.17 L413.81 449.84 L413.91 449.52 L414.00 449.19 L414.10 448.87 L414.19 448.55 L414.29 448.24 L414.38 447.92 L414.47 447.61 L414.56 447.30 L414.64 446.99 L414.73 446.68 L414.81 446.38 L414.89 446.07 L414.97 445.77 L415.05 445.48 L415.13 445.18 L415.21 444.89 L415.29 444.59 L415.36 444.30 L415.44 444.02 L415.51 443.73 L415.58 443.45 L415.65 443.16 L415.72 442.88 L415.79 442.61 L415.85 442.33 L415.92 442.06 L415.98 441.79 L416.05 441.52 L416.11 441.25 L416.17 440.98 L416.23 440.72 L416.29 440.46 L416.35 440.20 L416.40 439.94 L416.46 439.68 L416.51 439.43 L416.57 439.18 L416.62 438.93 L416.67 438.68 L416.73 438.43 L416.78 438.19 L416.83 437.95 L416.87 437.71 L416.92 437.47 L416.97 437.23 L417.02 436.99 L417.06 436.76 L417.11 436.53 L417.15 436.30 L417.19 436.07 L417.24 435.85 L417.28 435.62 L417.32 435.40 L417.36 435.18 L417.40 434.96 L417.44 434.74 L417.47 434.53 L417.51 434.31 L417.55 434.10 L417.58 433.89 L417.62 433.68 L417.65 433.48 L417.69 433.27 L417.72 433.07 L417.75 432.87 L417.78 432.67 L417.82 432.47 L417.85 432.27 L417.88 432.08 L417.91 431.89 L417.94 431.69 L417.96 431.50 L417.99 431.32 L418.02 431.13 L418.05 430.94 L418.07 430.76 L418.10 430.58 L418.12 430.40 L418.15 430.22 L418.17 430.04 L418.20 429.87 L418.22 429.69 L418.24 429.52 L418.27 429.35 L418.29 429.18 L418.31 429.01 L418.33 428.84 L418.35 428.68 L418.37 428.51 L418.39 428.35 L418.41 428.19 L418.43 428.03 L418.45 427.87 L418.47 427.72 L418.49 427.56 L418.51 427.41 L418.52 427.26 L418.54 427.11 L418.56 426.96 L418.57 426.81 L418.59 426.66 L418.61 426.52 L418.62 426.37 L418.64 426.23 L418.65 426.09 L418.67 425.95 L418.68 425.81 L418.69 425.67 L418.71 425.54 L418.72 425.40 L418.73 425.27 L418.75 425.14 L418.76 425.00 L418.77 424.87 L418.78 424.75 L418.80 424.62 L418.81 424.49 L418.82 424.37 L418.83 424.24 L418.84 424.12 L418.85 424.00 L418.86 423.88 L418.87 423.76 L418.88 423.64 L418.89 423.53 L418.90 423.41 L418.91 423.30 L418.92 423.18 L418.93 423.07 L418.94 422.96 L418.95 422.85 L418.95 422.74 L418.96 422.64 L418.97 422.53 L418.98 422.42 L418.99 422.32 L418.99 422.22 L419.00 422.11 L419.01 422.01 L419.01 421.91 L419.02 421.81 L419.03 421.71 L419.03 421.62 L419.04 421.52 L419.05 421.43 L419.05 421.33 L419.06 421.24 L419.06 421.15 L419.07 421.06 L419.08 420.96 L419.08 420.88 L419.09 420.79 L419.09 420.70 L419.10 420.61 L419.10 420.53 L419.11 420.44 L419.11 420.36 L419.12 420.28 L419.12 420.19 L419.12 420.11 L419.13 420.03 L419.13 419.95 L419.14 419.87 L419.14 419.80 L419.15 419.72 L419.15 419.64 L419.15 419.57 L419.16 419.49 L419.16 419.42 L419.16 419.35 L419.17 419.27 L419.17 419.20 L419.17 419.13 L419.18 419.06 L419.18 418.99 L419.18 418.93 L419.19 418.86 L419.19 418.79 L419.19 418.73 L419.19 418.66 L419.20 418.60 L419.20 418.53 L419.20 418.47" stroke="#ff0000" stroke-dasharray="16.6 8 4.1 8"/>
</g>
<g stroke="#000" stroke-width="2.8" fill="none" stroke-linecap="butt">
<rect x="181.70" y="56.50" width="594.00" height="595.25" stroke-linejoin="miter"/>
<path d="M211.40 651.75 v-5.75 M211.40 56.50 v6.30 M181.70 621.99 h5.60 M775.70 621.99 h-6.00 M241.10 651.75 v-5.75 M241.10 56.50 v6.30 M181.70 592.23 h5.60 M775.70 592.23 h-6.00 M270.80 651.75 v-5.75 M270.80 56.50 v6.30 M181.70 562.46 h5.60 M775.70 562.46 h-6.00 M300.50 651.75 v-11.80 M300.50 56.50 v12.10 M181.70 532.70 h11.50 M775.70 532.70 h-11.70 M330.20 651.75 v-5.75 M330.20 56.50 v6.30 M181.70 502.94 h5.60 M775.70 502.94 h-6.00 M359.90 651.75 v-5.75 M359.90 56.50 v6.30 M181.70 473.17 h5.60 M775.70 473.17 h-6.00 M389.60 651.75 v-5.75 M389.60 56.50 v6.30 M181.70 443.41 h5.60 M775.70 443.41 h-6.00 M419.30 651.75 v-11.80 M419.30 56.50 v12.10 M181.70 413.65 h11.50 M775.70 413.65 h-11.70 M449.00 651.75 v-5.75 M449.00 56.50 v6.30 M181.70 383.89 h5.60 M775.70 383.89 h-6.00 M478.70 651.75 v-5.75 M478.70 56.50 v6.30 M181.70 354.12 h5.60 M775.70 354.12 h-6.00 M508.40 651.75 v-5.75 M508.40 56.50 v6.30 M181.70 324.36 h5.60 M775.70 324.36 h-6.00 M538.10 651.75 v-11.80 M538.10 56.50 v12.10 M181.70 294.60 h11.50 M775.70 294.60 h-11.70 M567.80 651.75 v-5.75 M567.80 56.50 v6.30 M181.70 264.84 h5.60 M775.70 264.84 h-6.00 M597.50 651.75 v-5.75 M597.50 56.50 v6.30 M181.70 235.07 h5.60 M775.70 235.07 h-6.00 M627.20 651.75 v-5.75 M627.20 56.50 v6.30 M181.70 205.31 h5.60 M775.70 205.31 h-6.00 M656.90 651.75 v-11.80 M656.90 56.50 v12.10 M181.70 175.55 h11.50 M775.70 175.55 h-11.70 M686.60 651.75 v-5.75 M686.60 56.50 v6.30 M181.70 145.79 h5.60 M775.70 145.79 h-6.00 M716.30 651.75 v-5.75 M716.30 56.50 v6.30 M181.70 116.02 h5.60 M775.70 116.02 h-6.00 M746.00 651.75 v-5.75 M746.00 56.50 v6.30 M181.70 86.26 h5.60 M775.70 86.26 h-6.00" stroke-width="2.6"/>
</g>
<g clip-path="url(#cp)" stroke="#000" stroke-width="2.6" fill="none">
<path d="M306.20 116.60 H744.40 M525.30 -88.80 V322.00 M306.20 112.40 v8.40 M744.40 112.40 v8.40 M521.10 -88.80 h8.40 M521.10 322.00 h8.40 M340.30 279.80 H513.30 M426.80 185.60 V374.00 M340.30 275.60 v8.40 M513.30 275.60 v8.40 M422.60 185.60 h8.40 M422.60 374.00 h8.40 M432.30 328.40 H580.10 M506.20 249.40 V407.40 M432.30 324.20 v8.40 M580.10 324.20 v8.40 M502.00 249.40 h8.40 M502.00 407.40 h8.40 M409.80 352.70 H477.80 M443.80 312.80 V392.60 M409.80 348.50 v8.40 M477.80 348.50 v8.40 M439.60 312.80 h8.40 M439.60 392.60 h8.40 M514.90 360.80 H573.30 M544.10 334.60 V387.00 M514.90 356.60 v8.40 M573.30 356.60 v8.40 M539.90 334.60 h8.40 M539.90 387.00 h8.40 M522.10 378.30 H591.50 M556.80 345.90 V410.70 M522.10 374.10 v8.40 M591.50 374.10 v8.40 M552.60 345.90 h8.40 M552.60 410.70 h8.40 M535.40 347.60 H688.40 M611.90 270.20 V425.00 M535.40 343.40 v8.40 M688.40 343.40 v8.40 M607.70 270.20 h8.40 M607.70 425.00 h8.40 M632.20 250.90 H718.80 M675.50 206.90 V294.90 M632.20 246.70 v8.40 M718.80 246.70 v8.40 M671.30 206.90 h8.40 M671.30 294.90 h8.40 M320.70 546.00 H374.50 M347.60 518.90 V573.10 M320.70 541.80 v8.40 M374.50 541.80 v8.40 M343.40 518.90 h8.40 M343.40 573.10 h8.40"/>
</g>
<g fill="#000">
<circle cx="525.30" cy="116.60" r="7.1"/>
<circle cx="426.80" cy="279.80" r="7.1"/>
<circle cx="506.20" cy="328.40" r="7.1"/>
<circle cx="443.80" cy="352.70" r="7.1"/>
<circle cx="544.10" cy="360.80" r="7.1"/>
<circle cx="556.80" cy="378.30" r="7.1"/>
<circle cx="611.90" cy="347.60" r="7.1"/>
<circle cx="675.50" cy="250.90" r="7.1"/>
<circle cx="347.60" cy="546.00" r="7.1"/>
</g>
<g class="lb">
<text class="lb" x="531.20" y="111.20" textLength="43.74" lengthAdjust="spacingAndGlyphs">c141</text>
<text class="lb" x="432.70" y="274.40" textLength="32.49" lengthAdjust="spacingAndGlyphs">c40</text>
<text class="lb" x="512.10" y="323.00" textLength="21.24" lengthAdjust="spacingAndGlyphs">c2</text>
<text class="lb" x="449.70" y="347.30" textLength="32.49" lengthAdjust="spacingAndGlyphs">c38</text>
<text class="lb" x="550.00" y="355.40" textLength="43.74" lengthAdjust="spacingAndGlyphs">c128</text>
<text class="lb" x="562.70" y="372.90" textLength="43.74" lengthAdjust="spacingAndGlyphs">c103</text>
<text class="lb" x="617.80" y="342.20" textLength="32.49" lengthAdjust="spacingAndGlyphs">c39</text>
<text class="lb" x="681.40" y="245.50" textLength="32.49" lengthAdjust="spacingAndGlyphs">c19</text>
<text class="lb" x="353.50" y="540.60" textLength="43.74" lengthAdjust="spacingAndGlyphs">c164</text>
</g>
<text class="tk" x="172.7" y="77.20" text-anchor="end">1.0</text>
<text class="tk" x="172.7" y="187.40" text-anchor="end">0.8</text>
<text class="tk" x="172.7" y="306.50" text-anchor="end">0.6</text>
<text class="tk" x="172.7" y="425.70" text-anchor="end">0.4</text>
<text class="tk" x="172.7" y="544.80" text-anchor="end">0.2</text>
<text class="tk" x="172.7" y="652.20" text-anchor="end">0.0</text>
<text class="tk" x="181.20" y="695.3" text-anchor="middle">0.0</text>
<text class="tk" x="300.00" y="695.3" text-anchor="middle">0.2</text>
<text class="tk" x="418.80" y="695.3" text-anchor="middle">0.4</text>
<text class="tk" x="537.60" y="695.3" text-anchor="middle">0.6</text>
<text class="tk" x="656.40" y="695.3" text-anchor="middle">0.8</text>
<text class="tk" x="775.20" y="695.3" text-anchor="middle">1.0</text>
<g transform="translate(246.80 732.80)">
<text class="ti" x="0.00" y="0" textLength="36.20" lengthAdjust="spacingAndGlyphs">Al</text>
<text class="ti" x="45.70" y="0" textLength="33.90" lengthAdjust="spacingAndGlyphs">III</text>
<text class="ti" x="89.70" y="0" textLength="86.70" lengthAdjust="spacingAndGlyphs">λ1854</text>
<text class="ti" x="185.70" y="0" textLength="165.00" lengthAdjust="spacingAndGlyphs">absorption</text>
<text class="ti" x="359.20" y="0" textLength="88.40" lengthAdjust="spacingAndGlyphs">depth</text>
</g>
<g transform="translate(102.60 585.40) rotate(-90)">
<text class="ti" x="0.00" y="0" textLength="36.20" lengthAdjust="spacingAndGlyphs">Al</text>
<text class="ti" x="45.70" y="0" textLength="33.90" lengthAdjust="spacingAndGlyphs">III</text>
<text class="ti" x="89.70" y="0" textLength="86.70" lengthAdjust="spacingAndGlyphs">λ1862</text>
<text class="ti" x="185.70" y="0" textLength="165.00" lengthAdjust="spacingAndGlyphs">absorption</text>
<text class="ti" x="359.20" y="0" textLength="88.40" lengthAdjust="spacingAndGlyphs">depth</text>
</g>
<g fill="none" stroke-width="2.8">
<path d="M621.30 515.35 H730.60" stroke="#000"/>
<path d="M621.30 544.10 H730.60" stroke="#0000ff" stroke-dasharray="16.6 16.2"/>
<path d="M621.30 572.70 H730.60" stroke="#ff0000" stroke-dasharray="16.6 8 4.1 8"/>
<path d="M621.30 601.50 H730.60" stroke="#000" stroke-dasharray="3.4 8.07"/>
</g>
<text class="lg" x="528.00" y="522.50">f</text>
<text class="sb" x="536.40" y="528.10" textLength="6.60" lengthAdjust="spacingAndGlyphs">c</text>
<text class="lg" x="549.6" y="524.50" textLength="14.0" lengthAdjust="spacingAndGlyphs">=</text>
<text class="lg" x="569.60" y="522.50">f</text>
<text class="sb" x="579.00" y="528.10" textLength="23.60" lengthAdjust="spacingAndGlyphs">low</text>
<text class="lg" x="492.10" y="551.20">f</text>
<text class="sb" x="500.50" y="556.80" textLength="6.60" lengthAdjust="spacingAndGlyphs">c</text>
<text class="lg" x="513.4" y="553.20" textLength="14.0" lengthAdjust="spacingAndGlyphs">=</text>
<text class="lg" x="533.8" y="551.20" textLength="30.0" lengthAdjust="spacingAndGlyphs">0.7</text>
<text class="lg" x="569.60" y="551.20">f</text>
<text class="sb" x="579.00" y="556.80" textLength="23.60" lengthAdjust="spacingAndGlyphs">low</text>
<text class="lg" x="492.10" y="579.90">f</text>
<text class="sb" x="500.50" y="585.50" textLength="6.60" lengthAdjust="spacingAndGlyphs">c</text>
<text class="lg" x="513.4" y="581.90" textLength="14.0" lengthAdjust="spacingAndGlyphs">=</text>
<text class="lg" x="533.8" y="579.90" textLength="30.0" lengthAdjust="spacingAndGlyphs">0.4</text>
<text class="lg" x="569.60" y="579.90">f</text>
<text class="sb" x="579.00" y="585.50" textLength="23.60" lengthAdjust="spacingAndGlyphs">low</text>
<text class="lg" x="502.3" y="608.40" textLength="99.8" lengthAdjust="spacingAndGlyphs">saturated</text>
</svg>
</body></html>
